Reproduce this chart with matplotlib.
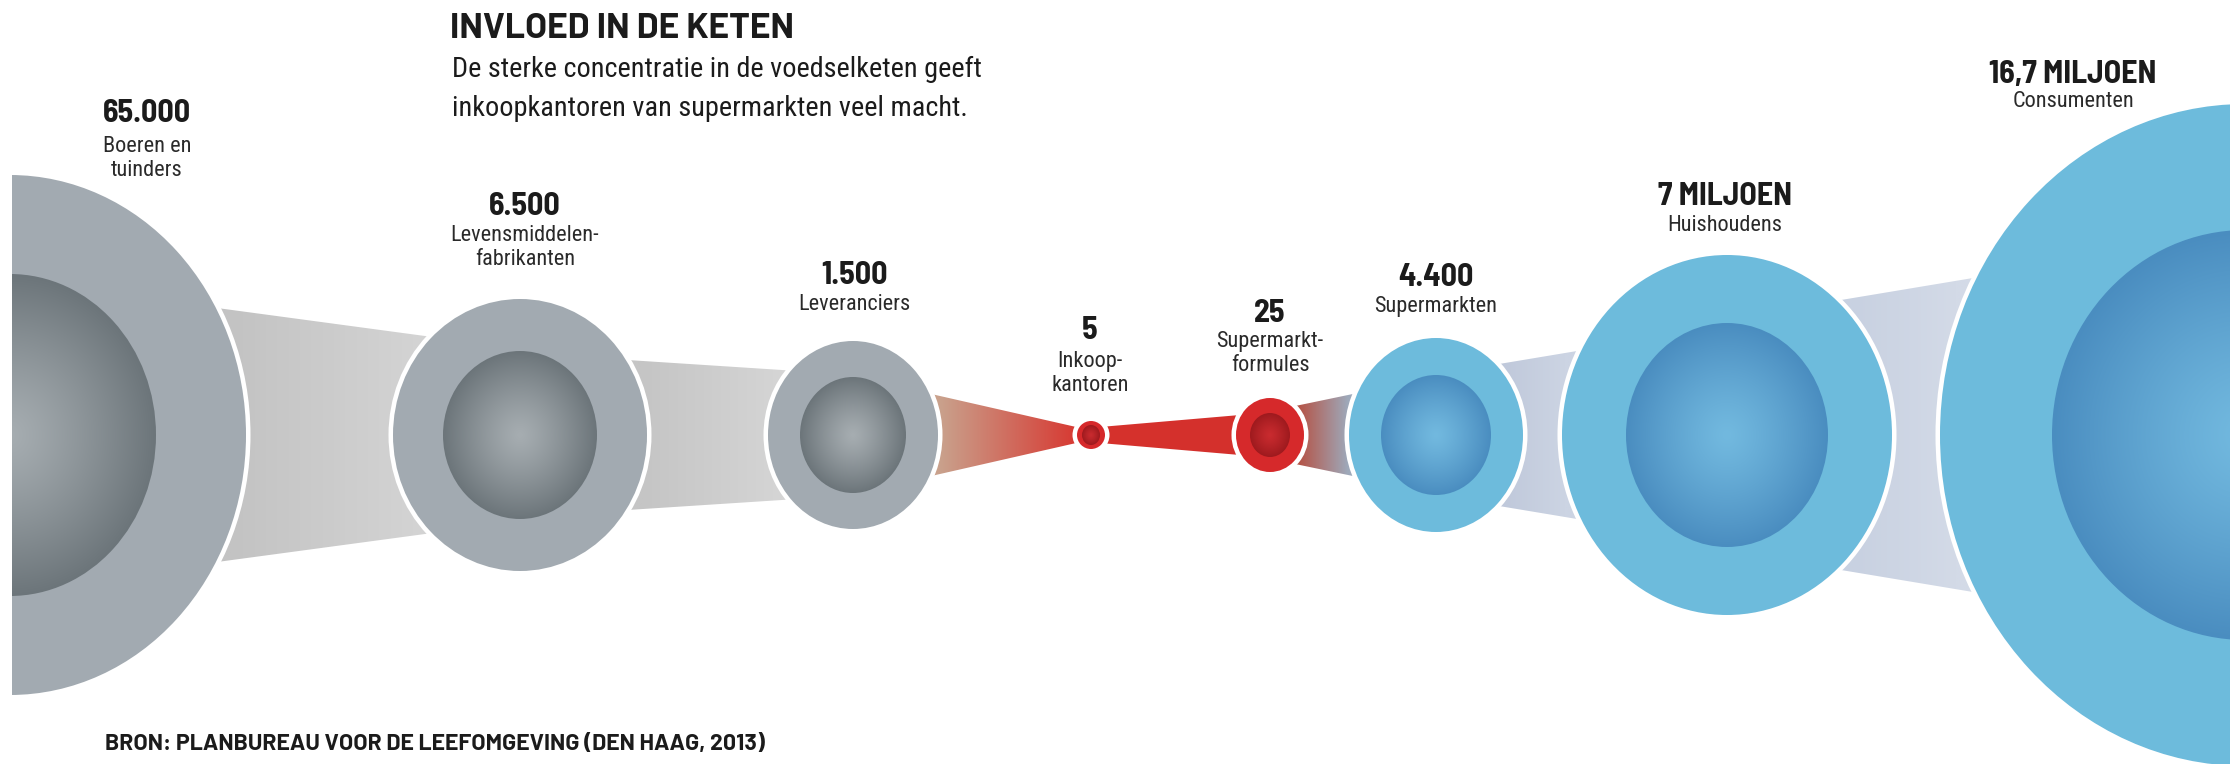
import numpy as np
import matplotlib
matplotlib.use("Agg")
import matplotlib.pyplot as plt
from matplotlib.patches import Ellipse, Polygon
from matplotlib.colors import to_rgb
from matplotlib import font_manager as fm

# --- data ---------------------------------------------------------------
counts = ["65.000", "6.500", "1.500", "5", "25", "4.400", "7 MILJOEN", "16,7 MILJOEN"]
groups = [["Boeren en", "tuinders"], ["Levensmiddelen-", "fabrikanten"], ["Leveranciers"],
          ["Inkoop-", "kantoren"], ["Supermarkt-", "formules"], ["Supermarkten"],
          ["Huishoudens"], ["Consumenten"]]
stage = ["gray", "gray", "gray", "red", "red", "blue", "blue", "blue"]

title = "INVLOED IN DE KETEN"
subtitle = ["De sterke concentratie in de voedselketen geeft",
            "inkoopkantoren van supermarkten veel macht."]
source = "BRON: PLANBUREAU VOOR DE LEEFOMGEVING (DEN HAAG, 2013)"

# --- layout (pixels of the 2230x764 picture) -----------------------------
W, H = 2230, 764
CY = 435
cx = [10, 520, 853, 1091, 1270, 1436, 1727, 2245]
outer_w = [236, 127, 85, 14, 34, 87, 165, 305]
outer_h = [260, 136, 94, 14, 37, 97, 180, 331]
inner_w = [146, 77, 53, 9, 20, 55, 101, 193]
inner_h = [161, 84, 58, 10, 22, 60, 112, 205]
label_x = [147, 525, 854, 1090, 1270, 1436, 1725, 2073]
count_y = [122, 215, 284, 339, 322, 286, 205, 83]
group_y = [152, 241, 310, 367, 347, 312, 231, 107]

# funnels between neighbours: (x0, half height, x1, half height, colour0, colour1)
funnels = [
    (232, 125, 425, 99, "#c3c3c3", "#d4d4d4"),
    (643, 74, 782, 65, "#c5c5c5", "#d5d5d5"),
    (940, 39, 1085, 6, "#c9a18c", "#d8332d"),
    (1100, 8, 1240, 20, "#d6322d", "#d4302c"),
    (1300, 30, 1348, 40, "#b4564a", "#9ea9ba"),
    (1505, 72, 1565, 82, "#c0c9db", "#ccd4e3"),
    (1853, 137, 1955, 154, "#c8d1e1", "#d3dae7"),
]

ring = {"gray": "#a2aab1", "red": "#d6292b", "blue": "#6dbbdc"}
core = {"gray": ("#a6adb1", "#6c757a"), "red": ("#c92b2f", "#9e1a1e"),
        "blue": ("#72b9df", "#4a8dc0")}

# --- fonts ---------------------------------------------------------------
names = {f.name for f in fm.fontManager.ttflist}
def pick(options):
    for n in options:
        if n in names:
            return n
    return "DejaVu Sans"

NARROW = pick(["Roboto Condensed", "Liberation Sans Narrow", "DejaVu Sans"])
NUMS = pick(["Barlow Semi Condensed", "Roboto Condensed", "DejaVu Sans"])
WIDE = pick(["Barlow", "Liberation Sans", "DejaVu Sans"])


def hgrad(ax, verts, c0, c1, xa, xb, z):
    poly = Polygon(verts, closed=True, fc="none", ec="none")
    ax.add_patch(poly)
    v = np.array(verts)
    x0, x1 = v[:, 0].min(), v[:, 0].max()
    y0, y1 = v[:, 1].min(), v[:, 1].max()
    xs = np.linspace(x0, x1, 400)
    t = np.clip((xs - xa) / (xb - xa), 0, 1)[:, None]
    row = np.array(to_rgb(c0)) * (1 - t) + np.array(to_rgb(c1)) * t
    img = np.repeat(row[None, :, :], 2, axis=0)
    im = ax.imshow(img, extent=(x0, x1, y1, y0), zorder=z, aspect="auto",
                   interpolation="bilinear")
    im.set_clip_path(poly)


def radial(ax, x, y, w, h, c_mid, c_edge, z):
    el = Ellipse((x, y), 2 * w, 2 * h, fc="none", ec="none")
    ax.add_patch(el)
    n = 300
    gx, gy = np.meshgrid(np.linspace(-1, 1, n), np.linspace(-1, 1, n))
    t = np.clip(np.hypot(gx, gy), 0, 1) ** 1.2
    img = (np.array(to_rgb(c_mid)) * (1 - t)[..., None]
           + np.array(to_rgb(c_edge)) * t[..., None])
    im = ax.imshow(img, extent=(x - w, x + w, y + h, y - h), zorder=z,
                   aspect="auto", interpolation="bilinear")
    im.set_clip_path(el)


fig = plt.figure(figsize=(W / 100, H / 100), dpi=100)
ax = fig.add_axes([12 / W, 0, 1 - 12 / W, 1])
ax.axis("off")

# funnels behind the circles
for i, (x0, h0, x1, h1, c0, c1) in enumerate(funnels):
    slope = (h1 - h0) / (x1 - x0)
    xa, xb = cx[i], cx[i + 1]
    ha = h0 + (xa - x0) * slope
    hb = h0 + (xb - x0) * slope
    verts = [(xa, CY - ha), (xb, CY - hb), (xb, CY + hb), (xa, CY + ha)]
    hgrad(ax, verts, c0, c1, x0, x1, 1)

# circles: white halo, coloured ring, shaded core
for i in range(len(counts)):
    ax.add_patch(Ellipse((cx[i], CY), 2 * outer_w[i] + 9, 2 * outer_h[i] + 9,
                         fc="white", ec="none", zorder=2))
    ax.add_patch(Ellipse((cx[i], CY), 2 * outer_w[i], 2 * outer_h[i],
                         fc=ring[stage[i]], ec="none", zorder=3))
    radial(ax, cx[i], CY, inner_w[i], inner_h[i], *core[stage[i]], 4)

# labels
for i in range(len(counts)):
    ax.text(label_x[i], count_y[i], counts[i], ha="center", va="baseline",
            fontsize=23, fontweight="bold", family=NUMS, color="#1b1b1b", zorder=6)
    for k, line in enumerate(groups[i]):
        ax.text(label_x[i], group_y[i] + 24 * k, line, ha="center", va="baseline",
                fontsize=16, family=NARROW, color="#2a2a2a", zorder=6)

ax.text(450, 38, title, ha="left", va="baseline", fontsize=25.5, fontweight="bold",
        family=WIDE, color="#1b1b1b")
for k, line in enumerate(subtitle):
    ax.text(452, 77 + 39 * k, line, ha="left", va="baseline", fontsize=20.3,
            family=NARROW, color="#1b1b1b")
ax.text(105, 750, source, ha="left", va="baseline", fontsize=16.6, fontweight="bold",
        family=WIDE, color="#1b1b1b")

ax.set_xlim(12, W)
ax.set_ylim(H, 0)
fig.savefig("out.png", dpi=100)
